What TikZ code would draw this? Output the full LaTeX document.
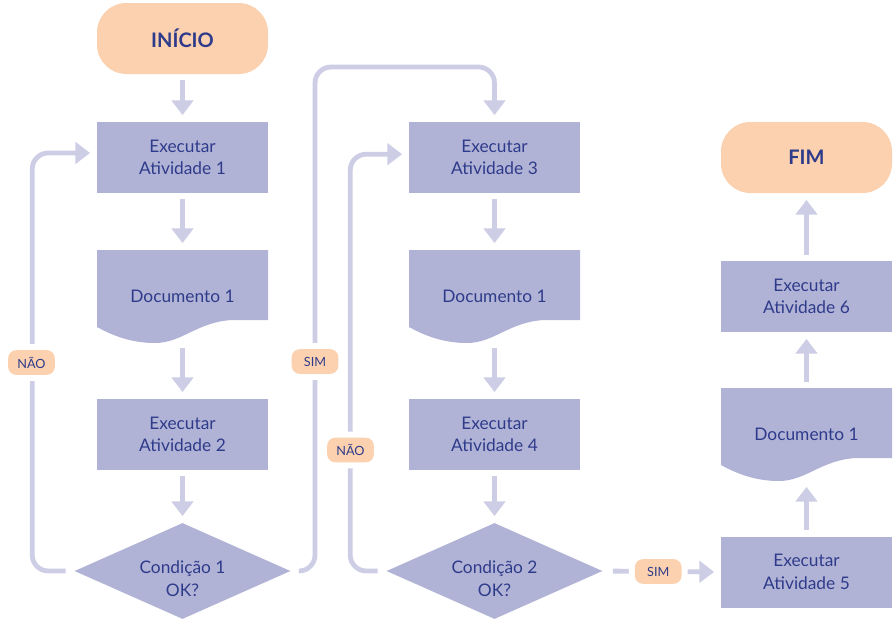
\documentclass[tikz,border=0pt]{standalone}
\usepackage{fontspec}
\setmainfont{Lato}
\usetikzlibrary{shapes.geometric,arrows.meta}

\definecolor{peach}{RGB}{251,209,175}
\definecolor{boxfill}{RGB}{177,179,214}
\definecolor{wire}{RGB}{205,205,230}
\definecolor{ink}{RGB}{46,59,138}

% point of the document shape, in px from its top left corner
\newcommand{\docat}[2]{([xshift=#1*0.75pt,yshift=-#2*0.75pt]path picture bounding box.north west)}

\begin{document}
\begin{tikzpicture}
  [
  x=0.75pt,y=-0.75pt,
  text=ink,
  font=\fontsize{13}{17}\selectfont,
  start/.style={rectangle,fill=peach,rounded corners=22pt,minimum width=128.25pt,minimum height=53.25pt,font=\fontsize{15}{18}\selectfont\bfseries},
  task/.style={rectangle,fill=boxfill,align=center,minimum width=128.25pt,minimum height=53.25pt},
  doc/.style={rectangle,inner sep=0pt,minimum width=128.25pt,minimum height=69pt,
    path picture={\fill [boxfill]
      \docat{0}{0} -- \docat{171}{0} -- \docat{171}{70} -- \docat{135}{70}
      .. controls \docat{100}{72} and \docat{85}{93} .. \docat{58}{93}
      .. controls \docat{38}{93} and \docat{20}{88} .. \docat{0}{77} -- cycle;}},
  test/.style={diamond,fill=boxfill,inner sep=0pt,aspect=2.25,minimum width=162pt,minimum height=72pt},
  tag/.style={rectangle,rounded corners=6pt,fill=peach,minimum width=35pt,minimum height=18.5pt,inner sep=0pt,
    font=\fontsize{9.5}{11}\selectfont,preaction={draw=white,line width=9pt}},
  flow/.style={draw=wire,line width=3.6pt,-{Triangle[width=16pt,length=11pt]},shorten <=4.5pt,shorten >=5pt},
  loop/.style={flow,rounded corners=12pt,shorten <=6.5pt}
  ]
  \useasboundingbox (0,0) rectangle (894,622);

  \node (ini) at (182.5,38.5) [start] {INÍCIO};
  \node (a1) at (182.5,157.5) [task] {Executar\\Atividade 1};
  \node (d1) at (182.5,296) [doc] {Documento 1};
  \node (a2) at (182.5,434.5) [task] {Executar\\Atividade 2};
  \node (c1) at (182.5,571) [test,label={[yshift=-6pt,align=center]center:Condição 1\\OK?}] {};

  \node (a3) at (494.5,157.5) [task] {Executar\\Atividade 3};
  \node (d2) at (494.5,296) [doc] {Documento 1};
  \node (a4) at (494.5,434.5) [task] {Executar\\Atividade 4};
  \node (c2) at (494.5,571) [test,label={[yshift=-6pt,align=center]center:Condição 2\\OK?}] {};

  \node (a5) at (806.5,572) [task] {Executar\\Atividade 5};
  \node (d3) at (806.5,434) [doc] {Documento 1};
  \node (a6) at (806.5,296.5) [task] {Executar\\Atividade 6};
  \node (fim) at (806.5,157.5) [start] {FIM};

  \coordinate (up1) at (315,67);

  \draw [flow] (ini) to (a1);
  \draw [flow] (a1) to (d1);
  \draw [flow] (d1) to (a2);
  \draw [flow] (a2) to (c1);
  \draw [flow] (a3) to (d2);
  \draw [flow] (d2) to (a4);
  \draw [flow] (a4) to (c2);
  \draw [flow] (a5) to (d3);
  \draw [flow] (d3) to (a6);
  \draw [flow] (a6) to (fim);

  \draw [loop] (c1.west) -- ++(-42,0) |- ([yshift=3.4pt]a1.west);
  \draw [loop] (c1.east) -| (up1) -| (a3.north);
  \draw [loop] (c2.west) -- ++(-36,0) |- ([yshift=2.5pt]a3.west);
  \draw [flow,shorten <=7.5pt] (c2.east) to node [tag,pos=0.47] (sim2) {SIM} (a5.west);

  \node (nao1) at (31.5,362.5) [tag] {NÃO};
  \node (sim1) at (315,361.5) [tag] {SIM};
  \node (nao2) at (350.5,450) [tag] {NÃO};
\end{tikzpicture}
\end{document}
